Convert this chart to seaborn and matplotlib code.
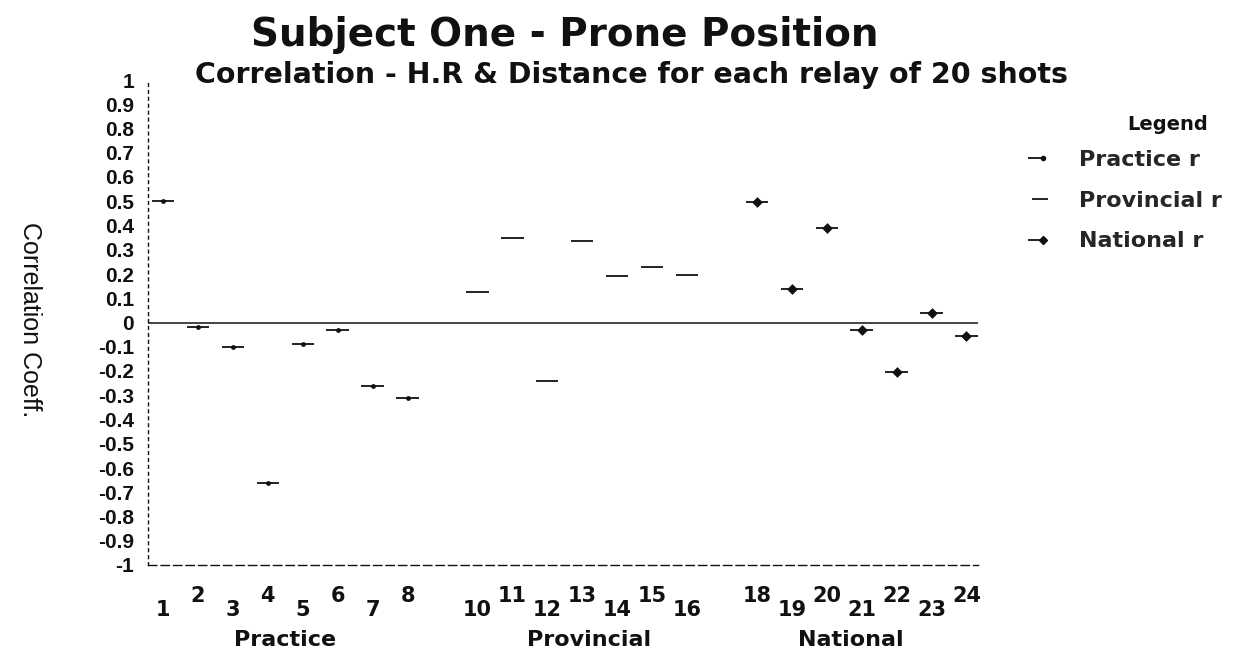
import matplotlib
matplotlib.use("Agg")
import matplotlib.pyplot as plt
import seaborn as sns
import pandas as pd
from matplotlib.lines import Line2D
from matplotlib.legend_handler import HandlerTuple
import matplotlib.transforms as mtransforms

# ---------------- data ----------------
practice_relay = [1, 2, 3, 4, 5, 6, 7, 8]
practice_r = [0.50, -0.02, -0.10, -0.66, -0.09, -0.03, -0.26, -0.31]

provincial_relay = [10, 11, 12, 13, 14, 15, 16]
provincial_r = [0.125, 0.35, -0.24, 0.335, 0.19, 0.23, 0.195]

national_relay = [18, 19, 20, 21, 22, 23, 24]
national_r = [0.495, 0.14, 0.39, -0.03, -0.205, 0.04, -0.055]

x_tick_labels = ["1", "2", "3", "4", "5", "6", "7", "8",
                 "10", "11", "12", "13", "14", "15", "16",
                 "18", "19", "20", "21", "22", "23", "24"]
y_tick_values = [1, 0.9, 0.8, 0.7, 0.6, 0.5, 0.4, 0.3, 0.2, 0.1, 0,
                 -0.1, -0.2, -0.3, -0.4, -0.5, -0.6, -0.7, -0.8, -0.9, -1]
group_names = ["Practice", "Provincial", "National"]
group_centers = [4.5, 13.2, 20.7]
series_names = ["Practice r", "Provincial r", "National r"]

df = pd.DataFrame({
    "relay": practice_relay + provincial_relay + national_relay,
    "r": practice_r + provincial_r + national_r,
    "series": ([series_names[0]] * len(practice_relay)
               + [series_names[1]] * len(provincial_relay)
               + [series_names[2]] * len(national_relay)),
})

# ---------------- style ----------------
sns.set_theme(style="white")
plt.rcParams["font.family"] = ["Liberation Sans", "DejaVu Sans"]
WIDE = ["DejaVu Sans"]
ARIAL = ["Liberation Sans", "DejaVu Sans"]

fig = plt.figure(figsize=(12.33, 6.5), dpi=100)
ax = fig.add_axes([148 / 1233, 1 - 565 / 650, (978 - 148) / 1233, (565 - 80) / 650])

ink = "#111111"
palette = {s: ink for s in series_names}

# horizontal dash for every point
sns.scatterplot(data=df, x="relay", y="r", hue="series", palette=palette,
                marker="_", s=260, linewidth=1.3, legend=False, ax=ax, zorder=3)
# centre blobs
sns.scatterplot(data=df[df["series"] == series_names[0]], x="relay", y="r",
                color=ink, marker="o", s=12, linewidth=0, legend=False, ax=ax, zorder=4)
sns.scatterplot(data=df[df["series"] == series_names[2]], x="relay", y="r",
                color=ink, marker="D", s=30, linewidth=0, legend=False, ax=ax, zorder=4)

ax.axhline(0, color=ink, lw=1.1, zorder=2)

ax.set_ylim(-1, 1)
ax.set_xlim(0.57, 24.33)

# y ticks
ax.set_yticks(y_tick_values)
ax.set_yticklabels([("%g" % v) for v in y_tick_values])
ax.tick_params(axis="y", length=3, width=1, direction="in", pad=10,
               labelsize=15, colors=ink)
for lab in ax.get_yticklabels():
    lab.set_fontweight("bold")
    lab.set_family(ARIAL)

# x ticks: staggered labels
positions = [int(t) for t in x_tick_labels]
low_pos = positions[0::2]
low_lab = x_tick_labels[0::2]
high_pos = positions[1::2]
high_lab = x_tick_labels[1::2]
ax.set_xticks(low_pos)
ax.set_xticklabels(low_lab)
ax.set_xticks(high_pos, minor=True)
ax.set_xticklabels(high_lab, minor=True)
ax.tick_params(axis="x", which="major", length=0, pad=25, labelsize=15, colors=ink)
ax.tick_params(axis="x", which="minor", length=0, pad=15, labelsize=15, colors=ink)
for lab in ax.get_xticklabels(which="both"):
    lab.set_fontweight("bold")
    lab.set_family(WIDE)

ax.set_xlabel("")
ax.set_ylabel("")

for side in ["top", "right"]:
    ax.spines[side].set_visible(False)
ax.spines["left"].set_linestyle((0, (2, 3)))
ax.spines["left"].set_color(ink)
ax.spines["left"].set_linewidth(1)
ax.spines["bottom"].set_linestyle((0, (6, 3)))
ax.spines["bottom"].set_color(ink)
ax.spines["bottom"].set_linewidth(1)

# group labels
trans = mtransforms.blended_transform_factory(ax.transData, ax.transAxes)
for name, cx in zip(group_names, group_centers):
    ax.text(cx, -0.155, name, transform=trans, ha="center", va="center",
            fontsize=16, fontweight="bold", color=ink, family=WIDE)

# titles
fig.text(565 / 1233, 1 - 35 / 650, "Subject One - Prone Position", ha="center",
         va="center", fontsize=28, fontweight="bold", color=ink, family=WIDE)
fig.text(195 / 1233, 1 - 75 / 650,
         "Correlation - H.R & Distance for each relay of 20 shots",
         ha="left", va="center", fontsize=20.5, fontweight="bold", color=ink,
         family=WIDE)

# y axis label
fig.text(30 / 1233, 1 - 320 / 650, "Correlation Coeff.", rotation=270,
         ha="center", va="center", fontsize=18, color=ink,
         family=["Liberation Sans Narrow", "Liberation Sans", "DejaVu Sans"])

# legend
fig.text(1168 / 1233, 1 - 124 / 650, "Legend", ha="center", va="center",
         fontsize=14, fontweight="bold", color=ink, family=WIDE)
h_dash = Line2D([], [], color=ink, marker="_", markersize=12, mew=1.3, ls="")
h_dot = Line2D([], [], color=ink, marker="o", markersize=3, ls="")
h_dia = Line2D([], [], color=ink, marker="D", markersize=4.5, ls="")
handles = [(h_dash, h_dot), (h_dash,), (h_dash, h_dia)]
fig.legend(handles, series_names, loc="upper left",
           bbox_to_anchor=(1033 / 1233, 1 - 150 / 650),
           frameon=False, prop={"weight": "bold", "size": 16, "family": WIDE},
           handlelength=0.6, handletextpad=1.45, labelspacing=0.93,
           borderpad=0, borderaxespad=0,
           handler_map={tuple: HandlerTuple(ndivide=None, pad=0)})

fig.savefig("out.png", dpi=100)
